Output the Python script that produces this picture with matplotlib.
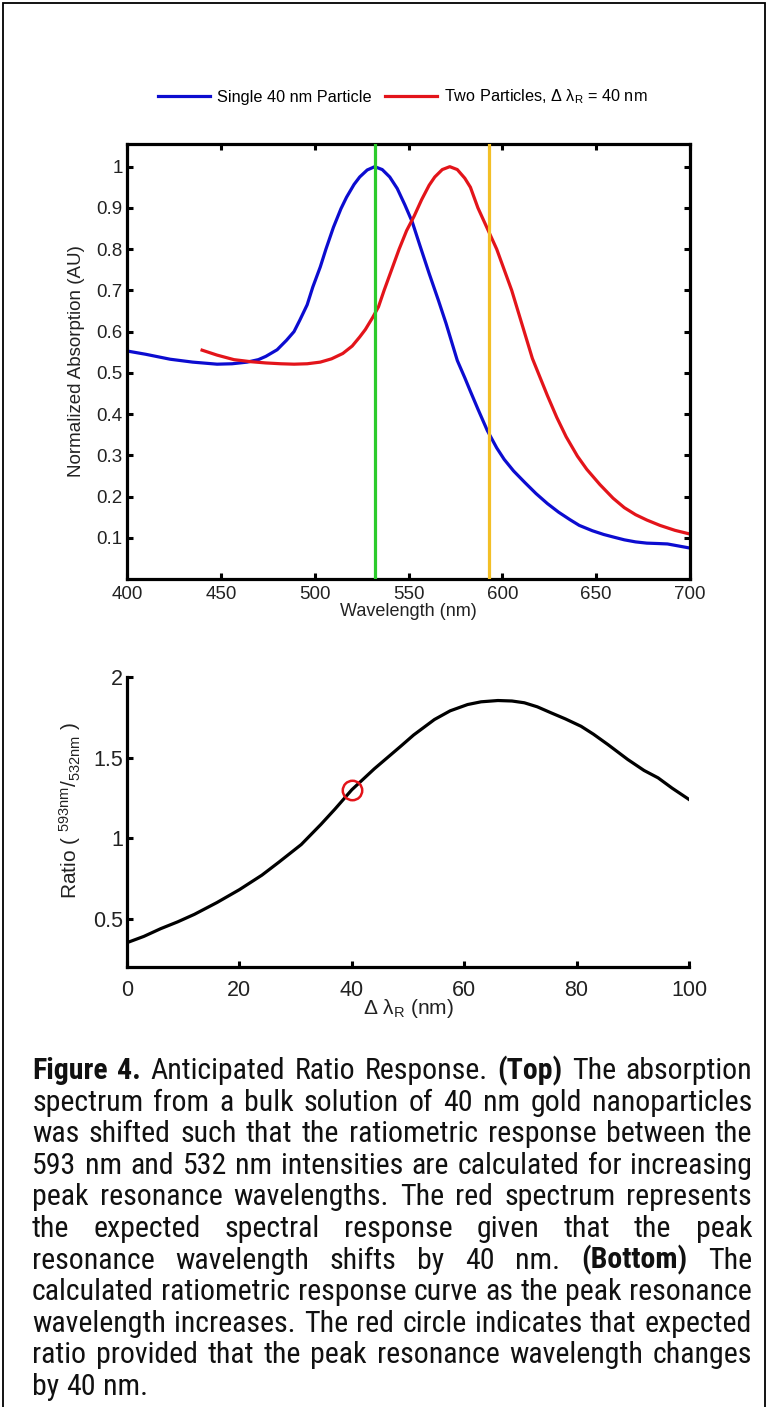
import matplotlib
matplotlib.use("Agg")
import matplotlib.pyplot as plt
from matplotlib import font_manager as fm
from matplotlib.font_manager import FontProperties
from matplotlib.patches import Rectangle

# ---------------- data ----------------
wl_single = [400, 410, 423, 435, 448, 456, 464, 470, 474, 480, 485, 489, 492, 496, 499,
             503, 506, 510, 514, 517, 521, 524, 528, 532, 536, 540, 544, 548, 552, 556,
             561, 566, 570, 573, 576, 580, 583, 587, 592, 597, 601, 606, 612, 618, 624,
             630, 636, 641, 648, 654, 659, 665, 671, 677, 683, 688, 694, 700]
abs_single = [0.553, 0.545, 0.533, 0.526, 0.521, 0.522, 0.526, 0.532, 0.540, 0.556, 0.579,
              0.600, 0.627, 0.665, 0.708, 0.757, 0.800, 0.853, 0.898, 0.926, 0.957, 0.975,
              0.992, 1.000, 0.993, 0.975, 0.947, 0.908, 0.866, 0.810, 0.741, 0.675, 0.620,
              0.575, 0.530, 0.488, 0.455, 0.412, 0.360, 0.318, 0.290, 0.262, 0.234, 0.207,
              0.183, 0.162, 0.144, 0.130, 0.117, 0.108, 0.102, 0.095, 0.090, 0.087, 0.086,
              0.085, 0.080, 0.075]

wl_two = [440, 448, 457, 466, 474, 482, 489, 496, 503, 509, 515, 520, 524, 527, 531, 534,
          537, 541, 545, 549, 553, 557, 561, 564, 568, 572, 576, 580, 583, 587, 592, 597,
          601, 605, 609, 613, 616, 620, 624, 629, 634, 640, 645, 652, 659, 665, 671, 677,
          684, 692, 700]
abs_two = [0.555, 0.543, 0.532, 0.527, 0.524, 0.522, 0.521, 0.522, 0.526, 0.534, 0.547,
           0.565, 0.587, 0.605, 0.635, 0.660, 0.700, 0.750, 0.800, 0.845, 0.880, 0.920,
           0.955, 0.975, 0.993, 1.000, 0.993, 0.972, 0.950, 0.900, 0.850, 0.800, 0.750,
           0.700, 0.640, 0.580, 0.535, 0.490, 0.445, 0.392, 0.345, 0.298, 0.266, 0.229,
           0.196, 0.173, 0.156, 0.143, 0.130, 0.118, 0.109]

laser_lines = [532, 593]
laser_colors = ["#2ccb2c", "#f3bf26"]

dl = [0, 3, 6, 9, 12, 16, 20, 24, 27, 31, 34.5, 37, 40, 44, 48.7, 51, 54.7, 57.5, 60.6,
      63, 66, 68.5, 70.7, 73, 75.5, 78, 80.8, 83, 85.6, 89.1, 92, 94.5, 97, 100]
ratio = [0.351, 0.390, 0.438, 0.480, 0.527, 0.600, 0.680, 0.770, 0.850, 0.960, 1.085,
         1.180, 1.300, 1.430, 1.570, 1.640, 1.736, 1.790, 1.829, 1.846, 1.854, 1.851,
         1.840, 1.815, 1.777, 1.740, 1.694, 1.645, 1.580, 1.488, 1.420, 1.374, 1.310,
         1.240]
circle_dl = [40]
circle_ratio = [1.30]

top_xticks = [400, 450, 500, 550, 600, 650, 700]
top_yticks = [0.1, 0.2, 0.3, 0.4, 0.5, 0.6, 0.7, 0.8, 0.9, 1.0]
top_yticklabels = ["0.1", "0.2", "0.3", "0.4", "0.5", "0.6", "0.7", "0.8", "0.9", "1"]
bot_xticks = [0, 20, 40, 60, 80, 100]
bot_yticks = [0.5, 1.0, 1.5, 2.0]
bot_yticklabels = ["0.5", "1", "1.5", "2"]

label_single = "Single 40 nm Particle"
label_two = r"Two Particles, Δ λ$_{\mathrm{R}}$ = 40 nm"

caption_lines = [
    "Figure 4. Anticipated Ratio Response. (Top) The absorption",
    "spectrum from a bulk solution of 40 nm gold nanoparticles",
    "was shifted such that the ratiometric response between the",
    "593 nm and 532 nm intensities are calculated for increasing",
    "peak resonance wavelengths. The red spectrum represents",
    "the expected spectral response given that the peak",
    "resonance wavelength shifts by 40 nm. (Bottom) The",
    "calculated ratiometric response curve as the peak resonance",
    "wavelength increases. The red circle indicates that expected",
    "ratio provided that the peak resonance wavelength changes",
    "by 40 nm.",
]
bold_words = {"Figure", "4.", "(Top)", "(Bottom)"}

# ---------------- style ----------------
plt.rcParams["font.family"] = ["Liberation Sans", "DejaVu Sans"]
plt.rcParams["mathtext.fontset"] = "custom"
plt.rcParams["mathtext.rm"] = "Liberation Sans"
plt.rcParams["mathtext.it"] = "Liberation Sans:italic"
plt.rcParams["mathtext.bf"] = "Liberation Sans:bold"
plt.rcParams["axes.linewidth"] = 2.3

W, H, DPI = 768, 1407, 100
fig = plt.figure(figsize=(W / DPI, H / DPI), dpi=DPI)


def fx(px):
    return px / W


def fy(py):
    return 1 - py / H


tick_color = "#222222"

# ---------------- top axes ----------------
ax1 = fig.add_axes([fx(127), fy(579), (690 - 127) / W, (579 - 144) / H])
l1, = ax1.plot(wl_single, abs_single, color="#0c0cd0", lw=2.3, solid_joinstyle="round")
l2, = ax1.plot(wl_two, abs_two, color="#e3141a", lw=2.3, solid_joinstyle="round")
for xv, c in zip(laser_lines, laser_colors):
    ax1.axvline(xv, color=c, lw=2.3, zorder=3)
ax1.set_xlim(400, 700)
ax1.set_ylim(0, 1.055)
ax1.set_xticks(top_xticks)
ax1.set_xticklabels([str(v) for v in top_xticks])
ax1.set_yticks(top_yticks)
ax1.set_yticklabels(top_yticklabels)
ax1.tick_params(direction="in", length=4, width=2.2, labelsize=13.5,
                labelcolor=tick_color, top=True, right=True)
ax1.tick_params(axis="x", pad=5)
ax1.tick_params(axis="y", pad=3)
ax1.set_xlabel("Wavelength (nm)", fontsize=13, color=tick_color)
ax1.set_ylabel("Normalized Absorption (AU)", fontsize=13.5, color=tick_color)
ax1.xaxis.set_label_coords(0.5, -0.056)
ax1.yaxis.set_label_coords(-0.075, 0.5)

fig.legend([l1, l2], [label_single, label_two], loc="center",
           bbox_to_anchor=(fx(403), fy(97)), ncol=2, frameon=False, fontsize=11.7,
           handlelength=3.2, handletextpad=0.45, columnspacing=0.8)

# ---------------- bottom axes ----------------
ax2 = fig.add_axes([fx(127), fy(967), (689 - 127) / W, (967 - 677) / H])
ax2.plot(dl, ratio, color="k", lw=2.3, solid_joinstyle="round")
ax2.plot(circle_dl, circle_ratio, "o", ms=14, mfc="none", mec="#e3141a", mew=1.8)
ax2.set_xlim(0, 100)
ax2.set_ylim(0.2, 2)
ax2.spines["top"].set_visible(False)
ax2.spines["right"].set_visible(False)
ax2.set_xticks(bot_xticks)
ax2.set_xticklabels([str(v) for v in bot_xticks])
ax2.set_yticks(bot_yticks)
ax2.set_yticklabels(bot_yticklabels)
ax2.tick_params(direction="in", length=4, width=2.2, labelsize=15.5, labelcolor=tick_color)
ax2.tick_params(axis="x", pad=9)
ax2.tick_params(axis="y", pad=3)
ax2.set_xlabel(r"Δ λ$_{\mathrm{R}}$ (nm)", fontsize=15, color=tick_color)
ax2.set_ylabel(r"Ratio ( ${}^{\mathrm{593nm}}/_{\mathrm{532nm}}$ )", fontsize=15,
               color=tick_color)
ax2.xaxis.set_label_coords(0.5, -0.105)
ax2.yaxis.set_label_coords(-0.078, 0.54)

# ---------------- caption (justified) ----------------
def wnum(w):
    if isinstance(w, str):
        return {"normal": 400, "regular": 400, "book": 400, "medium": 500,
                "semibold": 600, "demibold": 600, "bold": 700, "heavy": 800,
                "black": 900, "light": 300}.get(w.lower(), 400)
    return int(w)


def is_cond(f):
    s = f.stretch
    if "Narrow" in f.name or "Condensed" in f.name:
        return True
    if isinstance(s, str):
        return s in ("condensed", "semi-condensed", "extra-condensed")
    return s < 100


cands = {}
for f in fm.fontManager.ttflist:
    if f.style != "normal" or not is_cond(f):
        continue
    if "Serif" in f.name or "Mono" in f.name:
        continue
    d = cands.setdefault((f.name, str(f.stretch)), {})
    w = wnum(f.weight)
    if w == 400:
        d["regular"] = f.fname
    elif w == 700:
        d["bold"] = f.fname

prefs = ["Liberation Sans Narrow", "Arial Narrow", "Roboto Condensed", "Open Sans",
         "Noto Sans", "Open Sans Condensed", "Lato", "Inter"]
best = None
for key, d in cands.items():
    if "regular" in d and "bold" in d:
        rank = prefs.index(key[0]) if key[0] in prefs else len(prefs)
        srank = 0 if "semi" in key[1] else 1
        if best is None or (rank, srank) < best[0]:
            best = ((rank, srank), d)
if best is not None:
    reg_fp = FontProperties(fname=best[1]["regular"])
    bold_fp = FontProperties(fname=best[1]["bold"])
else:
    reg_fp = FontProperties(family="Liberation Sans")
    bold_fp = FontProperties(family="Liberation Sans", weight="bold")

renderer = fig.canvas.get_renderer()
left_px, right_px = 32, 752
cap_size = 24.0


def make_word(word, size):
    fp = (bold_fp if word in bold_words else reg_fp).copy()
    fp.set_size(size)
    return fig.text(0, 0, word, fontproperties=fp, color="#111111",
                    va="baseline", ha="left")


def width_of(t):
    return t.get_window_extent(renderer).width


def space_width(size):
    fp = reg_fp.copy()
    fp.set_size(size)
    ta = fig.text(0, 0, "x x", fontproperties=fp)
    tb = fig.text(0, 0, "xx", fontproperties=fp)
    s = width_of(ta) - width_of(tb)
    ta.remove()
    tb.remove()
    return s


space_w = space_width(cap_size)
max_nat = 0
for line in caption_lines[:-1]:
    ws = line.split()
    ts = [make_word(w, cap_size) for w in ws]
    nat = sum(width_of(t) for t in ts) + space_w * (len(ws) - 1)
    max_nat = max(max_nat, nat)
    for t in ts:
        t.remove()
scale = (right_px - left_px) / max_nat * 0.995
cap_size *= scale
space_w = space_width(cap_size)

base0 = 1079
line_h = 31.6
for i, line in enumerate(caption_lines):
    ws = line.split()
    ts = [make_word(w, cap_size) for w in ws]
    wids = [width_of(t) for t in ts]
    if i < len(caption_lines) - 1 and len(ws) > 1:
        gap = (right_px - left_px - sum(wids)) / (len(ws) - 1)
    else:
        gap = space_w
    x = left_px
    yb = base0 + i * line_h
    for t, wd in zip(ts, wids):
        t.set_position((fx(x), fy(yb)))
        x += wd + gap

# frame
fig.add_artist(Rectangle((fx(3), -0.01), (765 - 3) / W, fy(3) + 0.01,
                         transform=fig.transFigure, fill=False, lw=1.3, ec="k"))

fig.savefig("out.png", dpi=DPI)
